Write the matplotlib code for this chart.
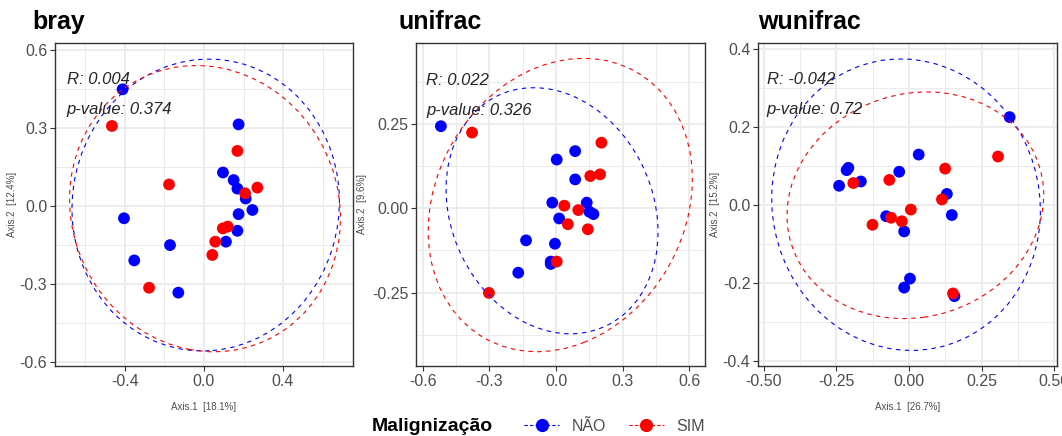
import numpy as np
import matplotlib as mpl
mpl.use('Agg')
import matplotlib.pyplot as plt
from matplotlib.patches import Ellipse
from matplotlib.lines import Line2D

plt.rcParams['font.family'] = ['Liberation Sans', 'DejaVu Sans']
plt.rcParams['axes.unicode_minus'] = False

# group colours / labels
groups = ['NÃO', 'SIM']
colors = ['#0000FF', '#FF0000']

# ---- bray ----
bray_nao_x = [-0.412, 0.175, 0.096, 0.150, 0.169, 0.211, 0.245, 0.175, 0.169, 0.111,
              -0.405, -0.172, -0.353, -0.130]
bray_nao_y = [0.449, 0.314, 0.129, 0.100, 0.067, 0.029, -0.015, -0.031, -0.095, -0.137,
              -0.047, -0.150, -0.209, -0.333]
bray_sim_x = [-0.466, 0.169, -0.177, 0.270, 0.208, 0.120, 0.095, 0.057, 0.042, -0.278]
bray_sim_y = [0.308, 0.212, 0.083, 0.071, 0.049, -0.079, -0.086, -0.137, -0.188, -0.314]
# ellipse: cx, cy, semi-major, semi-minor, angle (deg)
bray_ell_nao = [0.0085, 0.004, 0.677, 0.5605, 3.6]
bray_ell_sim = [0.005, -0.010, 0.688, 0.547, -8.3]

# ---- unifrac ----
uni_nao_x = [-0.518, 0.086, 0.003, 0.086, -0.017, 0.138, 0.168, 0.150, 0.014, -0.135,
             -0.005, -0.024, -0.024, -0.170]
uni_nao_y = [0.244, 0.170, 0.145, 0.086, 0.017, 0.017, -0.017, -0.010, -0.030, -0.095,
             -0.105, -0.158, -0.165, -0.191]
uni_sim_x = [-0.378, 0.204, 0.154, 0.198, 0.037, 0.100, 0.053, 0.143, 0.003, -0.302]
uni_sim_y = [0.225, 0.195, 0.096, 0.101, 0.008, -0.005, -0.047, -0.062, -0.158, -0.251]
uni_ell_nao = [-0.018, -0.007, 0.486, 0.353, -16.4]
uni_ell_sim = [0.019, 0.010, 0.604, 0.4216, 14.6]

# ---- wunifrac ----
wuni_nao_x = [0.346, 0.033, -0.209, -0.215, -0.166, -0.241, -0.034, 0.130, 0.147, -0.079,
              -0.017, 0.003, -0.017, 0.156]
wuni_nao_y = [0.226, 0.130, 0.096, 0.090, 0.061, 0.050, 0.086, 0.029, -0.025, -0.028,
              -0.067, -0.188, -0.211, -0.233]
wuni_sim_x = [0.306, 0.124, -0.068, -0.192, 0.113, 0.006, -0.062, -0.025, -0.126, 0.151]
wuni_sim_y = [0.125, 0.094, 0.065, 0.057, 0.015, -0.011, -0.032, -0.041, -0.050, -0.226]
wuni_ell_nao = [-0.0105, 0.0015, 0.463, 0.3727, -5.3]
wuni_ell_sim = [0.0215, 0.0, 0.443, 0.2884, 5.9]

titles = ['bray', 'unifrac', 'wunifrac']
r_vals = ['0.004', '0.022', '-0.042']
p_vals = ['0.374', '0.326', '0.72']
xlabels = ['Axis.1  [18.1%]', '', 'Axis.1  [26.7%]']
ylabels = ['Axis.2  [12.4%]', 'Axis.2  [9.6%]', 'Axis.2  [15.2%]']

panels = [
    dict(nao=(bray_nao_x, bray_nao_y), sim=(bray_sim_x, bray_sim_y),
         ell=(bray_ell_nao, bray_ell_sim),
         xlim=(-0.754, 0.754), ylim=(-0.615, 0.627),
         xt=[-0.4, 0.0, 0.4], xtl=['-0.4', '0.0', '0.4'],
         xm=[-0.6, -0.2, 0.2, 0.6],
         yt=[-0.6, -0.3, 0.0, 0.3, 0.6], ytl=['-0.6', '-0.3', '0.0', '0.3', '0.6'],
         ym=[-0.45, -0.15, 0.15, 0.45],
         txt=(-0.695, 0.485, 0.37),
         box=(55, 353), ylab_x=17),
    dict(nao=(uni_nao_x, uni_nao_y), sim=(uni_sim_x, uni_sim_y),
         ell=(uni_ell_nao, uni_ell_sim),
         xlim=(-0.63, 0.67), ylim=(-0.468, 0.491),
         xt=[-0.6, -0.3, 0.0, 0.3, 0.6], xtl=['-0.6', '-0.3', '0.0', '0.3', '0.6'],
         xm=[-0.45, -0.15, 0.15, 0.45],
         yt=[-0.25, 0.0, 0.25], ytl=['-0.25', '0.00', '0.25'],
         ym=[-0.375, -0.125, 0.125, 0.375],
         txt=(-0.585, 0.381, 0.292),
         box=(416, 705), ylab_x=367),
    dict(nao=(wuni_nao_x, wuni_nao_y), sim=(wuni_sim_x, wuni_sim_y),
         ell=(wuni_ell_nao, wuni_ell_sim),
         xlim=(-0.52, 0.509), ylim=(-0.412, 0.416),
         xt=[-0.5, -0.25, 0.0, 0.25, 0.5], xtl=['-0.50', '-0.25', '0.00', '0.25', '0.50'],
         xm=[-0.375, -0.125, 0.125, 0.375],
         yt=[-0.4, -0.2, 0.0, 0.2, 0.4], ytl=['-0.4', '-0.2', '0.0', '0.2', '0.4'],
         ym=[-0.3, -0.1, 0.1, 0.3],
         txt=(-0.49, 0.322, 0.245),
         box=(758, 1057), ylab_x=720),
]

W, H = 1062, 436
fig = plt.figure(figsize=(W / 100, H / 100), dpi=100)

title_x = [32, 398, 758]
grid_col = '#EBEBEB'
border_col = '#333333'

for i, p in enumerate(panels):
    x0, x1 = p['box']
    ax = fig.add_axes([x0 / W, (H - 366) / H, (x1 - x0) / W, (366 - 43) / H])
    ax.set_xlim(p['xlim'])
    ax.set_ylim(p['ylim'])

    # grid (theme_bw look)
    for v in p['xm']:
        ax.axvline(v, color=grid_col, lw=0.7, zorder=0)
    for v in p['ym']:
        ax.axhline(v, color=grid_col, lw=0.7, zorder=0)
    for v in p['xt']:
        ax.axvline(v, color=grid_col, lw=1.3, zorder=0)
    for v in p['yt']:
        ax.axhline(v, color=grid_col, lw=1.3, zorder=0)

    for key, col in zip(['nao', 'sim'], colors):
        xs, ys = p[key]
        ax.scatter(xs, ys, s=72, color=col, edgecolors='none', zorder=2)
    for e, col in zip(p['ell'], colors):
        cx, cy, a, b, ang = e
        ax.add_patch(Ellipse((cx, cy), 2 * a, 2 * b, angle=ang, fill=False,
                             edgecolor=col, lw=0.8, linestyle=(0, (4, 4)), zorder=3))

    tx, ry, py = p['txt']
    ax.text(tx, ry, 'R: ' + r_vals[i], style='italic', fontsize=12,
            color='#262626', ha='left', va='center', zorder=4)
    ax.text(tx, py, 'p-value: ' + p_vals[i], style='italic', fontsize=12,
            color='#262626', ha='left', va='center', zorder=4)

    ax.set_xticks(p['xt'])
    ax.set_xticklabels(p['xtl'])
    ax.set_yticks(p['yt'])
    ax.set_yticklabels(p['ytl'])
    ax.tick_params(axis='both', labelsize=11.5, labelcolor='#4D4D4D', color=border_col,
                   length=3.5, width=0.8, pad=2)
    for s in ax.spines.values():
        s.set_color(border_col)
        s.set_linewidth(1.0)

    ax.set_ylabel(ylabels[i], fontsize=7, color='#4D4D4D')
    ax.yaxis.set_label_coords((p['ylab_x'] - x0) / (x1 - x0), 0.5)
    if xlabels[i]:
        ax.set_xlabel(xlabels[i], fontsize=7, color='#4D4D4D')
        ax.xaxis.set_label_coords(0.5, (366 - 402) / 323)

    fig.text(title_x[i] / W, (H - 29) / H, titles[i], fontsize=18, fontweight='bold',
             ha='left', va='baseline')

# common legend
fig.text(372 / W, (H - 426) / H, 'Malignização', fontsize=14, fontweight='bold',
         ha='left', va='center')
handles = [Line2D([0], [0], color=c, marker='o', markersize=8.5, lw=0.8,
                  linestyle=(0, (3, 2))) for c in colors]
fig.legend(handles, groups, ncol=2, loc='center left',
           bbox_to_anchor=(524 / W, (H - 426) / H), frameon=False,
           fontsize=11.5, handlelength=2.2, columnspacing=1.4, handletextpad=0.8,
           labelcolor='#4D4D4D', borderaxespad=0, borderpad=0)

fig.savefig('out.png', dpi=100)
